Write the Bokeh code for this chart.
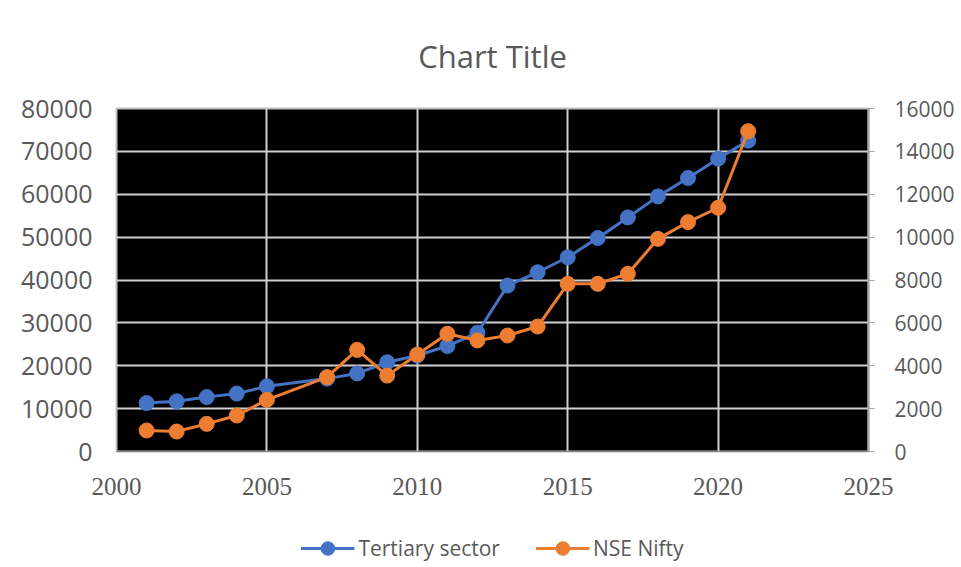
from bokeh.plotting import figure
from bokeh.layouts import column
from bokeh.models import Range1d, LinearAxis, FixedTicker, NumeralTickFormatter, Legend, LegendItem
from bokeh.embed import file_html
from bokeh.resources import INLINE

# ---- data ----
years = [2001, 2002, 2003, 2004, 2005, 2007, 2008, 2009, 2010, 2011, 2012,
         2013, 2014, 2015, 2016, 2017, 2018, 2019, 2020, 2021]
tertiary = [11300, 11700, 12700, 13500, 15200, 17000, 18200, 20800, 22400, 24600, 27700,
            38700, 41800, 45300, 49800, 54600, 59500, 63800, 68300, 72500]
nifty = [980, 930, 1290, 1680, 2410, 3470, 4740, 3540, 4520, 5490, 5180,
         5410, 5830, 7820, 7820, 8290, 9920, 10700, 11370, 14940]
x_ticks = [2000, 2005, 2010, 2015, 2020, 2025]
left_ticks = [0, 10000, 20000, 30000, 40000, 50000, 60000, 70000, 80000]
right_ticks = [0, 2000, 4000, 6000, 8000, 10000, 12000, 14000, 16000]
title_text = "Chart Title"
series_names = ["Tertiary sector", "NSE Nifty"]

BLUE = "#4472C4"
ORANGE = "#ED7D31"
GRAY_TXT = "#595959"

W = 961
p = figure(width=W, height=505, output_backend="svg", toolbar_location=None,
           x_range=Range1d(2000, 2025), y_range=Range1d(0, 80000),
           min_border_left=116, min_border_right=W - 868, min_border_top=108, min_border_bottom=54)
p.extra_y_ranges = {"nifty": Range1d(0, 16000)}

p.title.text = title_text
p.title.align = "center"
p.title.text_font = "Open Sans"
p.title.text_font_size = "31px"
p.title.text_font_style = "normal"
p.title.text_color = GRAY_TXT
p.title.standoff = 63

p.background_fill_color = "black"
p.border_fill_color = "white"
p.outline_line_color = "#bfbfbf"
p.outline_line_width = 2

# grids
p.xgrid.ticker = FixedTicker(ticks=x_ticks)
p.ygrid.ticker = FixedTicker(ticks=left_ticks)
p.xgrid.grid_line_color = "#d0d0d0"
p.ygrid.grid_line_color = "#d0d0d0"
p.xgrid.grid_line_width = 2
p.ygrid.grid_line_width = 2

# x axis
xa = p.xaxis[0]
xa.ticker = FixedTicker(ticks=x_ticks)
xa.major_tick_line_color = None
xa.minor_tick_line_color = None
xa.axis_line_color = "#7f7f7f"
xa.axis_line_width = 1
xa.major_label_text_font = "Liberation Serif"
xa.major_label_text_font_size = "25px"
xa.major_label_text_color = GRAY_TXT
xa.major_label_standoff = 20

# left axis
ya = p.yaxis[0]
ya.ticker = FixedTicker(ticks=left_ticks)
ya.formatter = NumeralTickFormatter(format="0")
ya.axis_line_color = None
ya.major_tick_line_color = None
ya.minor_tick_line_color = None
ya.major_label_text_font = "Open Sans"
ya.major_label_text_font_size = "25px"
ya.major_label_text_color = GRAY_TXT
ya.major_label_standoff = 18

# right axis
ra = LinearAxis(y_range_name="nifty", ticker=FixedTicker(ticks=right_ticks),
                formatter=NumeralTickFormatter(format="0"))
ra.axis_line_color = "#a6a6a6"
ra.axis_line_width = 2
ra.major_tick_line_color = "#a6a6a6"
ra.major_tick_in = 0
ra.major_tick_out = 6
ra.minor_tick_line_color = None
ra.major_label_text_font = "Open Sans"
ra.major_label_text_font_size = "21px"
ra.major_label_text_color = GRAY_TXT
ra.major_label_standoff = 20
p.add_layout(ra, "right")

p.line(years, tertiary, line_color=BLUE, line_width=3)
p.scatter(years, tertiary, size=15, fill_color=BLUE, line_color=BLUE)
p.line(years, nifty, line_color=ORANGE, line_width=3, y_range_name="nifty")
p.scatter(years, nifty, size=15, fill_color=ORANGE, line_color=ORANGE, y_range_name="nifty")

# legend strip below the chart (same series, drawn outside this strip's visible range)
q = figure(width=W, height=62, output_backend="svg", toolbar_location=None,
           x_range=Range1d(0, 1), y_range=Range1d(0, 1),
           min_border_left=0, min_border_right=0, min_border_top=0, min_border_bottom=0)
q.axis.visible = False
q.grid.visible = False
q.outline_line_color = None
q.background_fill_color = "white"
q.border_fill_color = "white"
ql1 = q.line(years, tertiary, line_color=BLUE, line_width=3)
qs1 = q.scatter(years, tertiary, size=15, fill_color=BLUE, line_color=BLUE)
ql2 = q.line(years, nifty, line_color=ORANGE, line_width=3)
qs2 = q.scatter(years, nifty, size=15, fill_color=ORANGE, line_color=ORANGE)

legend = Legend(items=[LegendItem(label=series_names[0], renderers=[ql1, qs1]),
                       LegendItem(label=series_names[1], renderers=[ql2, qs2])],
                orientation="horizontal", location="bottom_center")
legend.border_line_color = None
legend.background_fill_alpha = 0
legend.label_text_font = "Open Sans"
legend.label_text_font_size = "21px"
legend.label_text_color = GRAY_TXT
legend.glyph_width = 54
legend.glyph_height = 34
legend.label_standoff = 4
legend.spacing = 35
legend.padding = 0
legend.margin = 2
q.add_layout(legend, "center")

layout = column(p, q, spacing=0)
open("out.html", "w").write(file_html(layout, INLINE))
